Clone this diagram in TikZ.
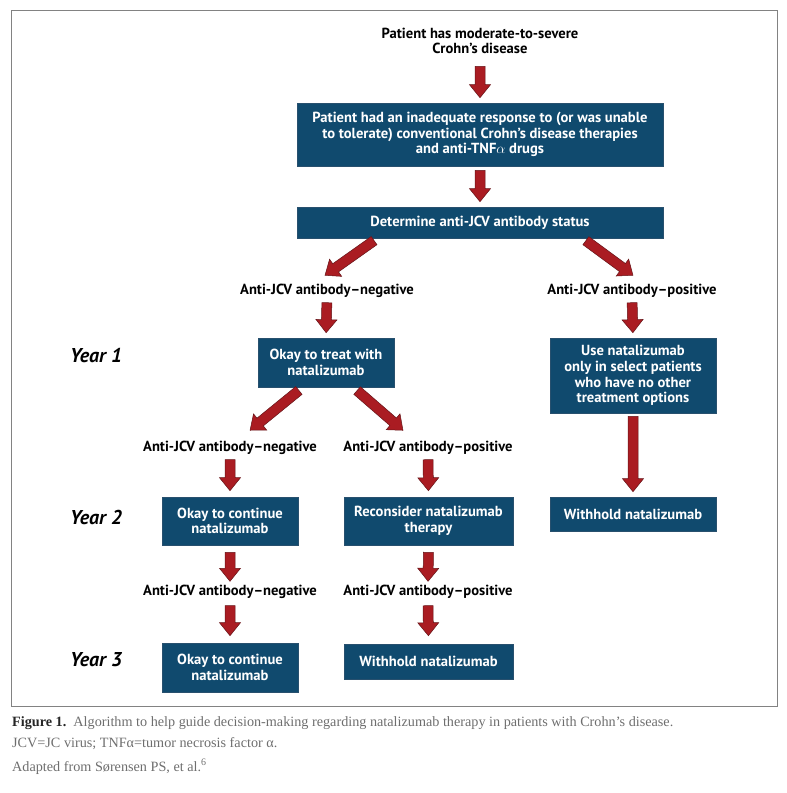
\documentclass[tikz,border=0pt]{standalone}
\usepackage{fontspec}
\setmainfont{PT Sans}
\newfontfamily\capfont{Liberation Serif}
\usetikzlibrary{calc}
\definecolor{boxblue}{RGB}{16,74,110}
\definecolor{boxedge}{RGB}{40,80,110}
\definecolor{arrowred}{RGB}{170,28,34}
\definecolor{arrowedge}{RGB}{100,20,24}
\definecolor{framegray}{RGB}{130,130,130}
\definecolor{capgray}{RGB}{110,110,110}
\tikzset{
  box/.style={fill=boxblue, draw=boxedge, line width=0.6pt, text=white,
    font=\bfseries\fontsize{14.6}{15.7}\selectfont, align=center, inner sep=0pt},
  lbl/.style={font=\bfseries\fontsize{14.6}{15.7}\selectfont, align=center, inner sep=0pt,
    text height=10pt, text depth=3pt},
  yearlbl/.style={font=\bfseries\itshape\fontsize{20}{22}\selectfont, inner sep=0pt, anchor=west},
  fatarrowstyle/.style={draw=arrowedge, fill=arrowred, line width=0.5pt, line join=miter},
  caption/.style={font=\capfont\fontsize{14.2}{16}\selectfont, text=capgray, anchor=base west, inner sep=0pt}
}
% #1 start, #2 end, #3 shorten at start, #4 shorten at end
\newcommand{\fatarrow}[4]{%
  \path[fatarrowstyle] let \p1=(#1), \p2=(#2),
    \n1={atan2(\y2-\y1,\x2-\x1)},
    \n2={veclen(\x2-\x1,\y2-\y1)-#3-#4-13},
    \p3=($(\p1)+(\n1:#3pt)$)
    in ($(\p3)+(\n1+90:5pt)$)
    -- ($(\p3)+(\n1+90:5pt)+(\n1:{\n2*1pt})$)
    -- ($(\p3)+(\n1+90:10.5pt)+(\n1:{\n2*1pt})$)
    -- ($(\p3)+(\n1:{(\n2+13)*1pt})$)
    -- ($(\p3)+(\n1-90:10.5pt)+(\n1:{\n2*1pt})$)
    -- ($(\p3)+(\n1-90:5pt)+(\n1:{\n2*1pt})$)
    -- ($(\p3)+(\n1-90:5pt)$) -- cycle;}
\begin{document}
\begin{tikzpicture}[x=1pt,y=-1pt]
\useasboundingbox (0,0) rectangle (787,793);
\draw[framegray, line width=1pt] (11,10) rectangle (777,706);

\node[lbl, text height=, text depth=] (title) at (480,41) {Patient has moderate-to-severe\\Crohn’s disease};
\node[box, minimum width=366pt, minimum height=63pt] (b1) at (480,134.5)
  {Patient had an inadequate response to (or was unable\\to tolerate) conventional Crohn’s disease therapies\\and anti-TNF$\alpha$ drugs};
\node[box, minimum width=366pt, minimum height=31pt] (b2) at (480,222.5) {Determine anti-JCV antibody status};

\node[lbl] (neg1) at (327,291) {Anti-JCV antibody--negative};
\node[lbl] (pos1) at (632,291) {Anti-JCV antibody--positive};
\node[box, minimum width=136pt, minimum height=49pt] (okay) at (326,362.5) {Okay to treat with\\natalizumab};
\node[box, minimum width=166pt, minimum height=75pt] (use) at (633,375.5) {Use natalizumab\\only in select patients\\who have no other\\treatment options};

\node[lbl] (neg2) at (230,448) {Anti-JCV antibody--negative};
\node[lbl] (pos2) at (428,448) {Anti-JCV antibody--positive};
\node[box, minimum width=136pt, minimum height=48pt] (l2) at (230,521) {Okay to continue\\natalizumab};
\node[box, minimum width=169pt, minimum height=48pt] (m2) at (428.5,521) {Reconsider natalizumab\\therapy};
\node[box, minimum width=166pt, minimum height=34pt] (wd1) at (633,514) {Withhold natalizumab};

\node[lbl] (neg3) at (230,592) {Anti-JCV antibody--negative};
\node[lbl] (pos3) at (428,592) {Anti-JCV antibody--positive};
\node[box, minimum width=136pt, minimum height=49pt] (l3) at (230,667.5) {Okay to continue\\natalizumab};
\node[box, minimum width=169pt, minimum height=35pt] (m3) at (428.5,661.5) {Withhold natalizumab};

\node[yearlbl] (y1) at (70,356) {Year 1};
\node[yearlbl] (y2) at (70,517) {Year 2};
\node[yearlbl] (y3) at (70,660) {Year 3};

\fatarrow{title.south}{b1.north}{12}{5}
\fatarrow{b1.south}{b2.north}{4}{5}
\fatarrow{$(b2.south west)!0.22!(b2.south east)$}{$(neg1.north)+(-2,-9)$}{4}{0}
\fatarrow{$(b2.south west)!0.78!(b2.south east)$}{$(pos1.north)+(1,-9)$}{4}{0}
\fatarrow{neg1.south}{okay.north}{5}{5}
\fatarrow{pos1.south}{use.north}{5}{5}
\fatarrow{$(okay.south west)!0.33!(okay.south east)$}{$(neg2.north)+(20,-11)$}{5}{0}
\fatarrow{$(okay.south west)!0.70!(okay.south east)$}{$(pos2.north)+(-25,-11)$}{5}{0}
\fatarrow{use.south}{wd1.north}{3}{5}
\fatarrow{neg2.south}{l2.north}{5}{6}
\fatarrow{pos2.south}{m2.north}{5}{6}
\fatarrow{l2.south}{neg3.north}{7}{4}
\fatarrow{m2.south}{pos3.north}{7}{4}
\fatarrow{neg3.south}{l3.north}{7}{7}
\fatarrow{pos3.south}{m3.north}{7}{8}

\node[caption] (cap1) at (12,726) {\textcolor{black!85}{\textbf{Figure 1.}}\enspace Algorithm to help guide decision-making regarding natalizumab therapy in patients with Crohn’s disease.};
\node[caption] (cap2) at (12,747) {JCV=JC virus; TNFα=tumor necrosis factor α.};
\node[caption] (cap3) at (12,771) {Adapted from Sørensen PS, et al.\textsuperscript{6}};
\end{tikzpicture}
\end{document}
